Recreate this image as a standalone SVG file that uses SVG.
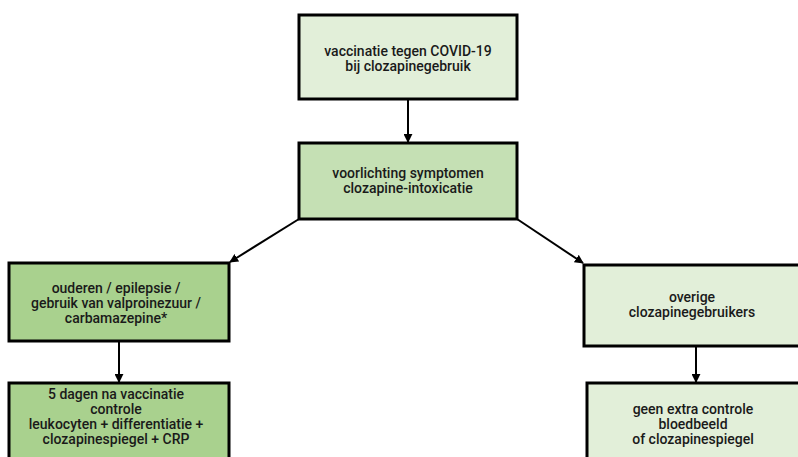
<svg xmlns="http://www.w3.org/2000/svg" width="798" height="457" viewBox="0 0 798 457">
<style>
.box{stroke:#000;stroke-width:3}
.l1{fill:#e2efd9}
.l2{fill:#c5e0b4}
.l3{fill:#a9d18e}
text{font-family:Roboto,"Liberation Sans",sans-serif;font-weight:500;font-size:14px;fill:#1a1a1a;text-anchor:middle}
.c{stroke:#000;stroke-width:2;fill:none;marker-end:url(#ah)}
</style>
<defs>
<marker id="ah" viewBox="0 0 10 10" refX="9" refY="5" markerWidth="4.5" markerHeight="4.5" orient="auto" markerUnits="strokeWidth">
<path d="M0,0 L10,5 L0,10 z" fill="#000"/>
</marker>
</defs>
<g id="connectors">
<line class="c" x1="408" y1="100" x2="408" y2="142"/>
<line class="c" x1="299" y1="219" x2="230" y2="262"/>
<line class="c" x1="517" y1="219" x2="583" y2="263"/>
<line class="c" x1="119" y1="342" x2="119" y2="382"/>
<line class="c" x1="696" y1="347" x2="696" y2="382"/>
</g>
<g id="n1">
<rect class="box l1" x="299" y="15" width="218" height="84"/>
<text x="408" y="56">vaccinatie tegen COVID-19</text>
<text x="408" y="71">bij clozapinegebruik</text>
</g>
<g id="n2">
<rect class="box l2" x="299" y="143" width="218" height="76"/>
<text x="408" y="178">voorlichting symptomen</text>
<text x="408" y="193">clozapine-intoxicatie</text>
</g>
<g id="n3">
<rect class="box l3" x="9" y="263" width="220" height="78"/>
<text x="116" y="293">ouderen / epilepsie /</text>
<text x="116" y="308">gebruik van valproinezuur /</text>
<text x="116" y="323">carbamazepine*</text>
</g>
<g id="n4">
<rect class="box l1" x="584" y="265" width="230" height="81"/>
<text x="692" y="302">overige</text>
<text x="692" y="317">clozapinegebruikers</text>
</g>
<g id="n5">
<rect class="box l3" x="9" y="383" width="220" height="90"/>
<text x="116" y="399">5 dagen na vaccinatie</text>
<text x="116" y="414">controle</text>
<text x="116" y="429">leukocyten + differentiatie +</text>
<text x="116" y="444">clozapinespiegel + CRP</text>
</g>
<g id="n6">
<rect class="box l1" x="587" y="383" width="230" height="90"/>
<text x="693" y="414">geen extra controle</text>
<text x="693" y="429">bloedbeeld</text>
<text x="693" y="444">of clozapinespiegel</text>
</g>
</svg>
